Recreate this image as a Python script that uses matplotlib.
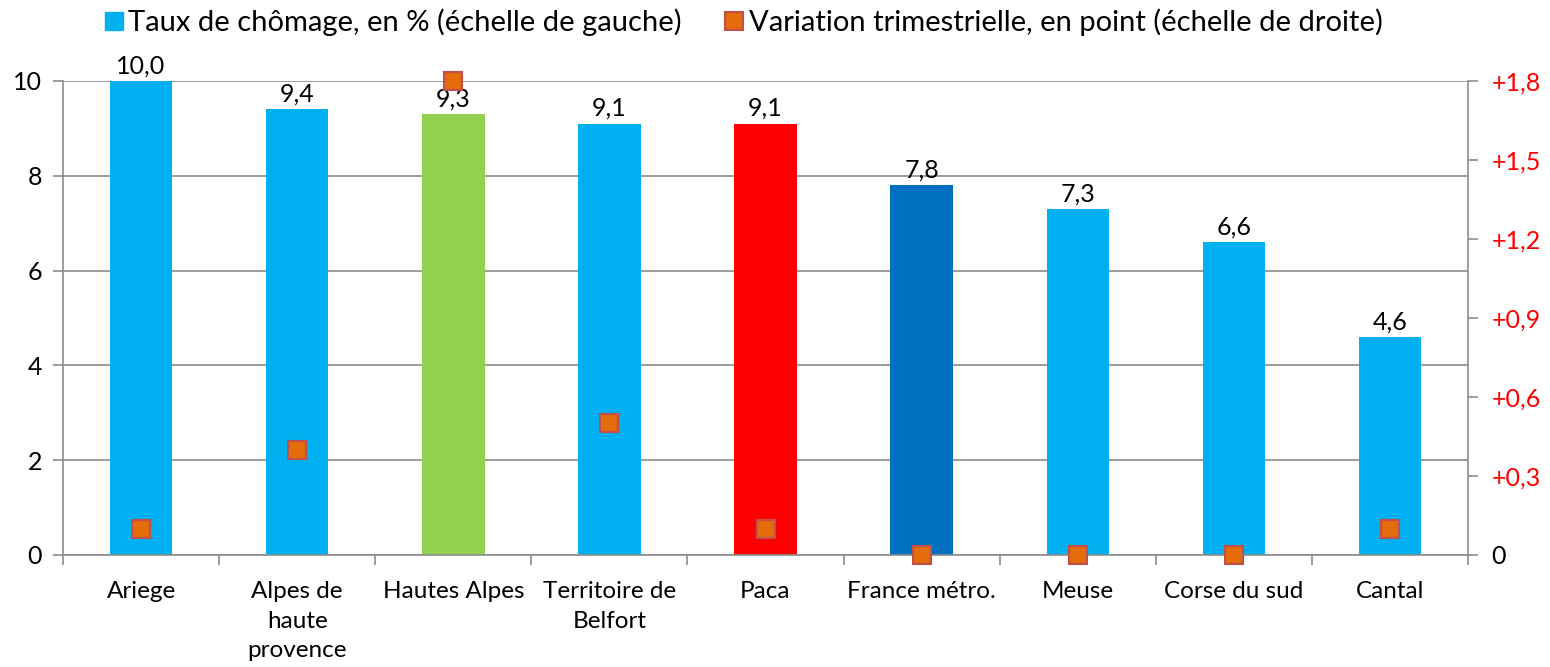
import matplotlib.pyplot as plt
import numpy as np
from matplotlib.lines import Line2D

plt.rcParams['font.family'] = ['Lato', 'DejaVu Sans']

categories = ['Ariege', 'Alpes de\nhaute\nprovence', 'Hautes Alpes', 'Territoire de\nBelfort',
              'Paca', 'France métro.', 'Meuse', 'Corse du sud', 'Cantal']
taux = [10.0, 9.4, 9.3, 9.1, 9.1, 7.8, 7.3, 6.6, 4.6]
variation = [0.1, 0.4, 1.8, 0.5, 0.1, 0.0, 0.0, 0.0, 0.1]
bar_colors = ['#00B0F0', '#00B0F0', '#92D050', '#00B0F0', '#FF0000',
              '#0070C0', '#00B0F0', '#00B0F0', '#00B0F0']
right_ticks = [0, 0.3, 0.6, 0.9, 1.2, 1.5, 1.8]
right_labels = ['0', '+0,3', '+0,6', '+0,9', '+1,2', '+1,5', '+1,8']

grey = '#8C8C8C'
fs = 18

fig = plt.figure(figsize=(15.5, 6.67), dpi=100)
ax = fig.add_axes([63 / 1550, 1 - 555 / 667, 1405 / 1550, 474 / 667])
x = np.arange(len(categories))

ax.bar(x, taux, width=0.4, color=bar_colors, zorder=2)
for xi, v in zip(x, taux):
    ax.text(xi, v + 0.08, f'{v:.1f}'.replace('.', ','), ha='center', va='bottom', fontsize=fs)

ax.set_xlim(-0.5, len(categories) - 0.5)
ax.set_ylim(0, 10)
ax.set_yticks([0, 2, 4, 6, 8, 10])
ax.grid(axis='y', color=grey, linewidth=1.2, zorder=0)
ax.set_axisbelow(True)
ax.set_xticks(x)
ax.set_xticklabels(categories, fontsize=17.5, linespacing=1.5, va='top')
ax.tick_params(axis='x', length=0, pad=19)
ax.set_xticks(np.arange(-0.5, len(categories), 1), minor=True)
ax.tick_params(axis='x', which='minor', length=7, color=grey, width=1.2)
ax.tick_params(axis='y', length=7, color=grey, width=1.2, labelsize=fs, pad=8)
for s in ['top', 'right']:
    ax.spines[s].set_visible(False)
for s in ['left', 'bottom']:
    ax.spines[s].set_color(grey)
    ax.spines[s].set_linewidth(1.2)

ax2 = ax.twinx()
ax2.plot(x, variation, linestyle='none', marker='s', markersize=13,
         markerfacecolor='#E46C0A', markeredgecolor='#C0504D', markeredgewidth=1.5,
         clip_on=False, zorder=5)
ax2.set_ylim(0, 1.8)
ax2.set_yticks(right_ticks)
ax2.set_yticklabels(right_labels, fontsize=fs)
for lab, t in zip(ax2.get_yticklabels(), right_ticks):
    lab.set_color('black' if t == 0 else '#FF0000')
ax2.tick_params(axis='y', length=7, color=grey, width=1.2, pad=10)
for s in ['top', 'left', 'bottom']:
    ax2.spines[s].set_visible(False)
ax2.spines['right'].set_color(grey)
ax2.spines['right'].set_linewidth(1.2)

handles = [
    Line2D([], [], linestyle='none', marker='s', markersize=13, markerfacecolor='#00B0F0',
           markeredgecolor='#00B0F0'),
    Line2D([], [], linestyle='none', marker='s', markersize=13, markerfacecolor='#E46C0A',
           markeredgecolor='#C0504D', markeredgewidth=1.5),
]
fig.legend(handles, ['Taux de chômage, en % (échelle de gauche)',
                     'Variation trimestrielle, en point (échelle de droite)'],
           loc='center', bbox_to_anchor=(0.479, 1 - 22 / 667), ncol=2, frameon=False,
           fontsize=21, handletextpad=0.1, columnspacing=1.4, handlelength=0.8)

fig.savefig('out.png', dpi=100)
